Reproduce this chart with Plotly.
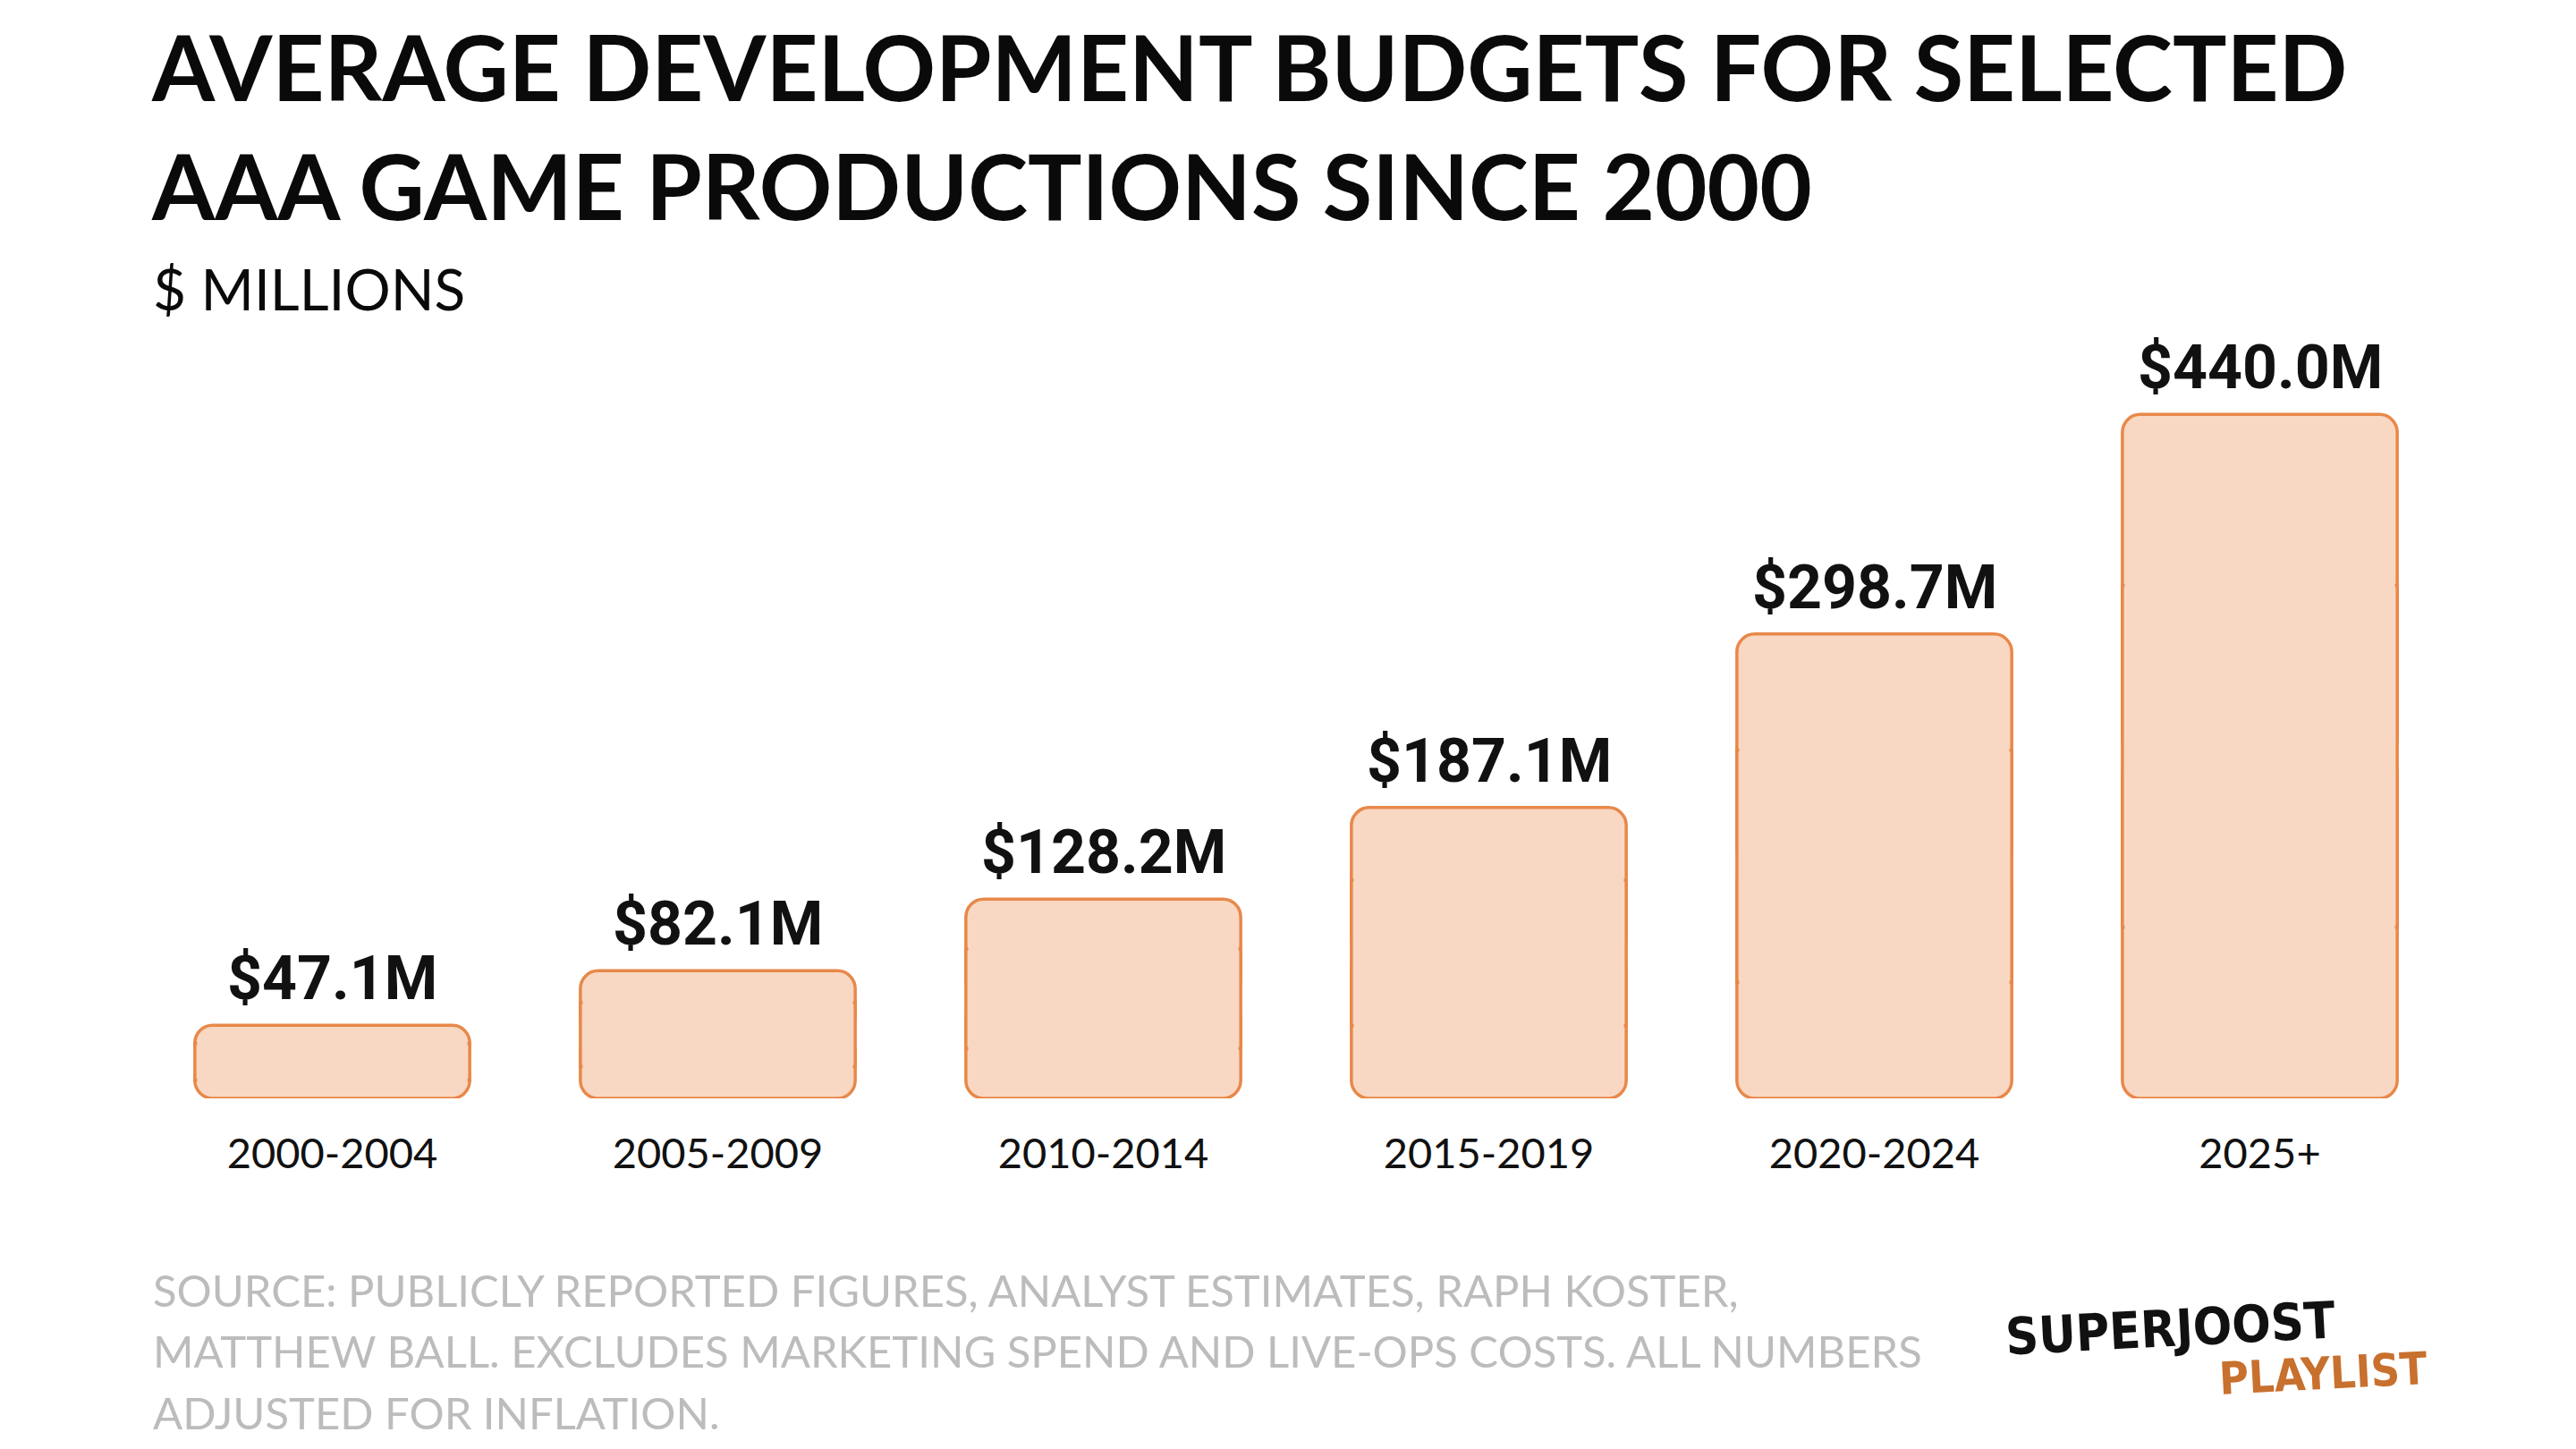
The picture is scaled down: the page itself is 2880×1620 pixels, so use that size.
import plotly.graph_objects as go

categories = ["2000-2004", "2005-2009", "2010-2014", "2015-2019", "2020-2024", "2025+"]
budgets = [47.1, 82.1, 128.2, 187.1, 298.7, 440.0]
value_labels = ["$47.1M", "$82.1M", "$128.2M", "$187.1M", "$298.7M", "$440.0M"]

title_lines = ["AVERAGE DEVELOPMENT BUDGETS FOR SELECTED", "AAA GAME PRODUCTIONS SINCE 2000"]
subtitle = "$ MILLIONS"
source_lines = [
    "SOURCE: PUBLICLY REPORTED FIGURES, ANALYST ESTIMATES, RAPH KOSTER,",
    "MATTHEW BALL. EXCLUDES MARKETING SPEND AND LIVE-OPS COSTS. ALL NUMBERS",
    "ADJUSTED FOR INFLATION.",
]

W, H = 2880, 1620
ML, MR, MT, MB = 148, 146, 351, 400
PW, PH = W - ML - MR, H - MT - MB

FILL = "#f8d8c2"
EDGE = "#e8884a"
BAR_W = 0.713
EDGE_W = 3.5


def px(x):
    return (x - ML) / PW


def py(y):
    return (H - MB - y) / PH


half = [v / 2 for v in budgets]

fig = go.Figure()
# lower half (rounded bottom corners): from mid-height down to zero
fig.add_trace(go.Bar(x=categories, y=[-h for h in half], base=half, width=BAR_W,
                     marker=dict(color=FILL, line=dict(color=EDGE, width=EDGE_W), cornerradius=20),
                     hoverinfo="skip"))
# upper half (rounded top corners): from mid-height up to the value
fig.add_trace(go.Bar(x=categories, y=half, base=half, width=BAR_W,
                     marker=dict(color=FILL, line=dict(color=EDGE, width=EDGE_W), cornerradius=20),
                     hoverinfo="skip"))
# square middle section with side edges, hiding the seam between the halves
fig.add_trace(go.Bar(x=categories, y=[v * 0.5 for v in budgets], base=[v * 0.25 for v in budgets],
                     width=BAR_W,
                     marker=dict(color=FILL, line=dict(color=EDGE, width=EDGE_W)),
                     hoverinfo="skip"))
# borderless fill hiding the horizontal edges of the middle section
fig.add_trace(go.Bar(x=categories, y=[v * 0.6 for v in budgets], base=[v * 0.2 for v in budgets],
                     width=BAR_W - 0.012,
                     marker=dict(color=FILL, line=dict(width=0)),
                     hoverinfo="skip"))

ann = []
for c, v, t in zip(categories, budgets, value_labels):
    ann.append(dict(x=c, y=v, xref="x", yref="y", text=t, showarrow=False,
                    yanchor="bottom", xanchor="center", yshift=10,
                    font=dict(family="Roboto", size=68, color="#111111", weight="bold")))

title_y = [66, 199]
for t, yy in zip(title_lines, title_y):
    ann.append(dict(x=px(159), y=py(yy), xref="paper", yref="paper", text="<b>%s</b>" % t,
                    showarrow=False, xanchor="left", yanchor="middle",
                    font=dict(family="Lato", size=101, color="#0a0a0a")))
ann.append(dict(x=px(161), y=py(315), xref="paper", yref="paper", text=subtitle,
                showarrow=False, xanchor="left", yanchor="middle",
                font=dict(family="Lato", size=64, color="#0a0a0a")))

src_y = [1434, 1502, 1571]
for t, yy in zip(source_lines, src_y):
    ann.append(dict(x=px(161), y=py(yy), xref="paper", yref="paper", text=t,
                    showarrow=False, xanchor="left", yanchor="middle",
                    font=dict(family="Lato", size=49, color="#bcbcbc")))

ann.append(dict(x=px(2230), y=py(1477), xref="paper", yref="paper", text="<b>SUPERJOOST</b>",
                showarrow=False, xanchor="left", yanchor="middle", textangle=-3,
                font=dict(family="DejaVu Sans Condensed", size=57, color="#111111")))
ann.append(dict(x=px(2470), y=py(1528), xref="paper", yref="paper", text="<b>PLAYLIST</b>",
                showarrow=False, xanchor="left", yanchor="middle", textangle=-3,
                font=dict(family="DejaVu Sans Condensed", size=50, color="#c8702e")))

fig.update_layout(
    width=W, height=H,
    margin=dict(l=ML, r=MR, t=MT, b=MB),
    paper_bgcolor="white", plot_bgcolor="white",
    showlegend=False,
    barmode="overlay",
    annotations=ann,
    xaxis=dict(showgrid=False, zeroline=False, showline=False, ticks="outside",
               ticklen=21, tickcolor="rgba(0,0,0,0)",
               tickfont=dict(family="Lato", size=47, color="#111111"),
               range=[-0.5, 5.5]),
    yaxis=dict(range=[0, 500], visible=False, showgrid=False, zeroline=False),
)

fig.write_html("out.html")
